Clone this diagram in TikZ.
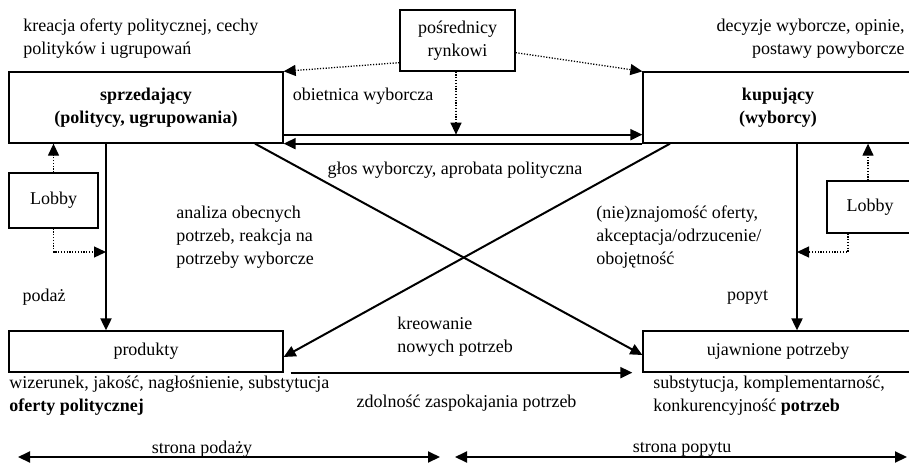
\documentclass[tikz,border=0pt]{standalone}
\usepackage{fontspec}
\setmainfont{Liberation Serif}
\usetikzlibrary{arrows.meta}
\tikzset{
  box/.style={draw, line width=0.65pt, inner sep=0pt, align=center, font=\fontsize{9}{11.5}\selectfont},
  txt/.style={inner sep=0pt, font=\fontsize{9}{11.5}\selectfont},
  solidarr/.style={line width=1pt, -{Triangle[length=6pt,width=5.5pt]}},
  dotarr/.style={line width=0.65pt, dash pattern=on 0.6pt off 0.8pt, -{Triangle[length=6pt,width=5.5pt]}},
  dblarr/.style={line width=1pt, {Triangle[length=6pt,width=5.5pt]}-{Triangle[length=6pt,width=5.5pt]}},
}
\begin{document}
\begin{tikzpicture}[x=0.5pt,y=-0.5pt]
\useasboundingbox (0,0) rectangle (909,466);
\clip (0,0) rectangle (909,466);

% boxes
\node[box, minimum width=137pt, minimum height=35.5pt] (sprz) at (146,107.5) {\textbf{sprzedający}\\\textbf{(politycy, ugrupowania)}};
\node[box, minimum width=135pt, minimum height=35.5pt] (kup) at (778,107.5) {\textbf{kupujący}\\\textbf{(wyborcy)}};
\node[box, minimum width=57.5pt, minimum height=30.5pt] (posr) at (457.5,40.5) {pośrednicy\\rynkowi};
\node[box, minimum width=44.5pt, minimum height=27.5pt] (lobL) at (53.5,200.5) {Lobby};
\node[box, minimum width=43pt, minimum height=26pt] (lobR) at (870,207) {Lobby};
\node[box, minimum width=137pt, minimum height=20.5pt] (prod) at (146,351.5) {produkty};
\node[box, minimum width=135pt, minimum height=20.5pt] (ujaw) at (778,351.5) {ujawnione potrzeby};

% helper coordinates
\coordinate (ua) at ([yshift=4.5pt]sprz.south east);
\coordinate (ub) at ([yshift=4.5pt]kup.south west);
\coordinate (vL) at ([xshift=-20pt]sprz.south);
\coordinate (vR) at ([xshift=9.5pt]kup.south);
\coordinate (y252) at (0,252);
\coordinate (dL) at ([xshift=54.5pt]sprz.south);
\coordinate (dR) at ([xshift=-54pt]kup.south);
\coordinate (bA) at ([xshift=3.5pt]prod.south east);
\coordinate (bB) at ([xshift=-5pt]ujaw.south west);
\coordinate (p1) at (18,457);
\coordinate (p2) at (440,457);
\coordinate (q1) at (455,457);
\coordinate (q2) at (907,457);

% top arrows between seller and buyer
\draw[solidarr] (ua) -- (ub);
\draw[solidarr] (kup.south west) -- (sprz.south east);

% intermediaries
\draw[dotarr] ([yshift=4.5pt]posr.south west) -- (sprz.north east);
\draw[dotarr] ([yshift=9.5pt]posr.south east) -- (kup.north west);
\draw[dotarr] ([xshift=-0.75pt]posr.south) -- ([xshift=-0.75pt]posr.south |- ua);

% verticals
\draw[solidarr] (vL) -- (vL |- prod.north);
\draw[solidarr] (vR) -- (vR |- ujaw.north);

% lobby left
\draw[dotarr] (lobL.north) -- (lobL.north |- sprz.south);
\draw[dotarr] (lobL.south) |- (vL |- y252);
% lobby right
\draw[dotarr] ([xshift=-1pt]lobR.north) -- ([xshift=-1pt]lobR.north |- kup.south);
\draw[dotarr] ([xshift=-11pt]lobR.south) |- (vR |- y252);

% diagonals
\draw[solidarr] (dL) -- ([yshift=-1.75pt]ujaw.west);
\draw[solidarr] (dR) -- ([yshift=-2.75pt]prod.east);

% bottom arrow
\draw[solidarr] (bA) -- (bB);

% double arrows
\draw[dblarr] (p1) -- (p2);
\draw[dblarr] (q1) -- (q2);

% texts
\node[txt, anchor=west, align=left] (t1) at (23,38.5) {kreacja oferty politycznej, cechy\\polityków i ugrupowań};
\node[txt, anchor=east, align=right] (t2) at (905,38.5) {decyzje wyborcze, opinie,\\postawy powyborcze};
\node[txt] (t3) at (363,96) {obietnica wyborcza};
\node[txt] (t4) at (455,170) {głos wyborczy, aprobata polityczna};
\node[txt, anchor=west, align=left] (t5) at (176,237) {analiza obecnych\\potrzeb, reakcja na\\potrzeby wyborcze};
\node[txt, anchor=west, align=left] (t6) at (596,237) {(nie)znajomość oferty,\\akceptacja/odrzucenie/\\obojętność};
\node[txt] (t7) at (44,297) {podaż};
\node[txt] (t8) at (747.5,297) {popyt};
\node[txt, anchor=west, align=left] (t9) at (397,336.5) {kreowanie\\nowych potrzeb};
\node[txt] (t10) at (466.5,403) {zdolność zaspokajania potrzeb};
\node[txt, anchor=west, align=left] (t11) at (9,396) {wizerunek, jakość, nagłośnienie, substytucja\\\textbf{oferty politycznej}};
\node[txt, anchor=west, align=left] (t12) at (653,396) {substytucja, komplementarność,\\konkurencyjność \textbf{potrzeb}};
\node[txt] (t13) at (202,449) {strona podaży};
\node[txt] (t14) at (682,449) {strona popytu};
\end{tikzpicture}
\end{document}
